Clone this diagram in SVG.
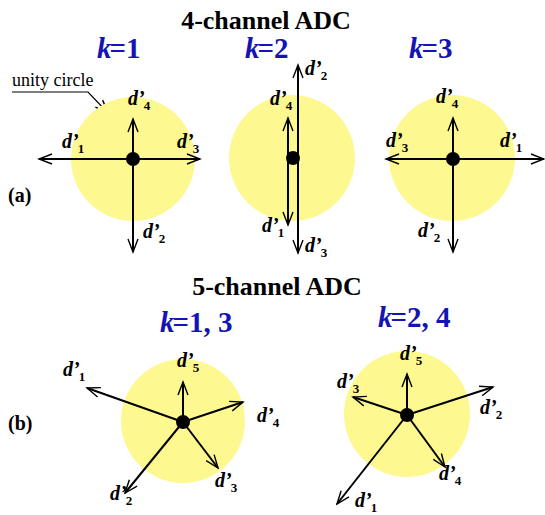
<svg xmlns="http://www.w3.org/2000/svg" width="545" height="515" viewBox="0 0 545 515" font-family="Liberation Serif">
<defs>
<marker id="v" markerUnits="userSpaceOnUse" viewBox="-15 -7 17 14" markerWidth="17" markerHeight="14" refX="0" refY="0" orient="auto">
<path d="M-13,-5 L0,0 L-13,5" fill="none" stroke="#000" stroke-width="1.4"/>
</marker>
</defs>
<g id="titles" font-weight="bold" font-size="26" text-anchor="middle" fill="#000">
<text x="266" y="29">4-channel ADC</text>
<text x="277" y="295">5-channel ADC</text>
</g>
<g id="panel-labels" font-weight="bold" font-size="20" fill="#000">
<text x="8" y="202">(a)</text>
<text x="8" y="430">(b)</text>
</g>
<g id="note">
<text x="12" y="86" font-size="18" fill="#000">unity circle</text>
<polyline points="12,92 88,92 108,113" fill="none" stroke="#000" stroke-width="1.2" marker-end="url(#v)"/>
</g>
<g id="circles" fill="#fdf88f">
<circle id="k1" cx="133" cy="159" r="62"/>
<circle id="k2" cx="292" cy="158" r="63"/>
<circle id="k3" cx="452" cy="158" r="63"/>
<circle id="k13" cx="183" cy="421" r="62"/>
<circle id="k24" cx="407" cy="414" r="63"/>
</g>
<g id="k-labels" font-weight="bold" font-size="29" fill="#1414b4">
<text x="97" y="58"><tspan font-style="italic">k</tspan><tspan dx="-2">=1</tspan></text>
<text x="245" y="58"><tspan font-style="italic">k</tspan><tspan dx="-2">=2</tspan></text>
<text x="409" y="58"><tspan font-style="italic">k</tspan><tspan dx="-2">=3</tspan></text>
<text x="160" y="332"><tspan font-style="italic">k</tspan><tspan dx="-2">=1, 3</tspan></text>
<text x="378" y="327"><tspan font-style="italic">k</tspan><tspan dx="-2">=2, 4</tspan></text>
</g>
<g id="connectors" stroke="#000" stroke-width="2" fill="none" marker-end="url(#v)">
<line x1="133" y1="159" x2="39" y2="159"/>
<line x1="133" y1="159" x2="200" y2="159"/>
<line x1="133" y1="159" x2="133" y2="119"/>
<line x1="133" y1="159" x2="133" y2="252"/>
<line x1="288" y1="158" x2="288" y2="118"/>
<line x1="288" y1="158" x2="288" y2="225"/>
<line x1="298" y1="158" x2="298" y2="65"/>
<line x1="298" y1="158" x2="298" y2="253"/>
<line x1="453" y1="159" x2="386" y2="159"/>
<line x1="453" y1="159" x2="544" y2="159"/>
<line x1="453" y1="159" x2="453" y2="118"/>
<line x1="453" y1="159" x2="453" y2="252"/>
<line x1="183" y1="422" x2="183" y2="382"/>
<line x1="183" y1="422" x2="243" y2="402"/>
<line x1="183" y1="422" x2="218" y2="468"/>
<line x1="183" y1="422" x2="125" y2="493"/>
<line x1="183" y1="422" x2="87" y2="388"/>
<line x1="407" y1="415" x2="407" y2="374"/>
<line x1="407" y1="415" x2="493" y2="387"/>
<line x1="407" y1="415" x2="445" y2="467"/>
<line x1="407" y1="415" x2="337" y2="504"/>
<line x1="407" y1="415" x2="353" y2="397"/>
</g>
<g id="dots" fill="#000">
<circle cx="133" cy="159" r="7"/>
<circle cx="293" cy="158" r="7"/>
<circle cx="453" cy="159" r="7"/>
<circle cx="183" cy="422" r="7"/>
<circle cx="407" cy="415" r="7"/>
</g>
<g id="labels" font-weight="bold" font-style="italic" font-size="20" fill="#000">
<text x="128" y="105">d’<tspan font-style="normal" font-size="13" dx="-1" dy="5">4</tspan></text>
<text x="62" y="148">d’<tspan font-style="normal" font-size="13" dx="-1" dy="5">1</tspan></text>
<text x="177" y="148">d’<tspan font-style="normal" font-size="13" dx="-1" dy="5">3</tspan></text>
<text x="143" y="238">d’<tspan font-style="normal" font-size="13" dx="-1" dy="5">2</tspan></text>
<text x="305" y="75">d’<tspan font-style="normal" font-size="13" dx="-1" dy="5">2</tspan></text>
<text x="270" y="105">d’<tspan font-style="normal" font-size="13" dx="-1" dy="5">4</tspan></text>
<text x="262" y="232">d’<tspan font-style="normal" font-size="13" dx="-1" dy="5">1</tspan></text>
<text x="305" y="252">d’<tspan font-style="normal" font-size="13" dx="-1" dy="5">3</tspan></text>
<text x="436" y="103">d’<tspan font-style="normal" font-size="13" dx="-1" dy="5">4</tspan></text>
<text x="386" y="147">d’<tspan font-style="normal" font-size="13" dx="-1" dy="5">3</tspan></text>
<text x="500" y="147">d’<tspan font-style="normal" font-size="13" dx="-1" dy="5">1</tspan></text>
<text x="418" y="237">d’<tspan font-style="normal" font-size="13" dx="-1" dy="5">2</tspan></text>
<text x="177" y="367">d’<tspan font-style="normal" font-size="13" dx="-1" dy="5">5</tspan></text>
<text x="257" y="422">d’<tspan font-style="normal" font-size="13" dx="-1" dy="5">4</tspan></text>
<text x="215" y="487">d’<tspan font-style="normal" font-size="13" dx="-1" dy="5">3</tspan></text>
<text x="110" y="500">d’<tspan font-style="normal" font-size="13" dx="-1" dy="5">2</tspan></text>
<text x="63" y="376">d’<tspan font-style="normal" font-size="13" dx="-1" dy="5">1</tspan></text>
<text x="400" y="360">d’<tspan font-style="normal" font-size="13" dx="-1" dy="5">5</tspan></text>
<text x="337" y="388">d’<tspan font-style="normal" font-size="13" dx="-1" dy="5">3</tspan></text>
<text x="480" y="414">d’<tspan font-style="normal" font-size="13" dx="-1" dy="5">2</tspan></text>
<text x="439" y="480">d’<tspan font-style="normal" font-size="13" dx="-1" dy="5">4</tspan></text>
<text x="355" y="507">d’<tspan font-style="normal" font-size="13" dx="-1" dy="5">1</tspan></text>
</g>
</svg>
